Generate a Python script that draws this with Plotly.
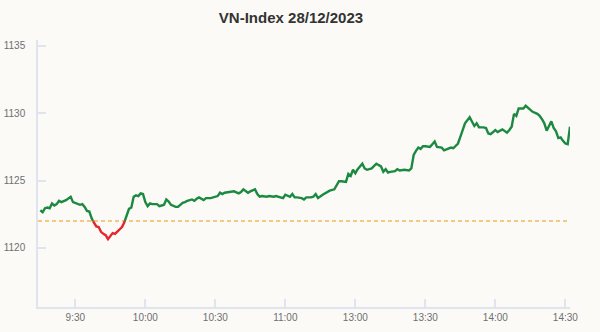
import plotly.graph_objects as go

# ---- data -------------------------------------------------------------
title_text = "VN-Index 28/12/2023"
ref_value = 1122.0  # previous close (reference)

times = [
    "09:15", "09:16", "09:17", "09:18", "09:19", "09:20", "09:21", "09:22", "09:23", "09:24",
    "09:26", "09:27", "09:28", "09:29", "09:31", "09:32", "09:33", "09:34", "09:35", "09:36",
    "09:37", "09:38", "09:39", "09:40", "09:41", "09:42", "09:43", "09:44", "09:45", "09:46",
    "09:47", "09:48", "09:50", "09:51", "09:52", "09:53", "09:54", "09:55", "09:56", "09:57",
    "09:58", "09:59", "10:00", "10:01", "10:02", "10:03", "10:05", "10:06", "10:07", "10:08",
    "10:09", "10:10", "10:11", "10:13", "10:14", "10:16", "10:17", "10:18", "10:20", "10:21",
    "10:22", "10:23", "10:25", "10:26", "10:28", "10:29", "10:31", "10:32", "10:33", "10:34",
    "10:36", "10:37", "10:38", "10:40", "10:41", "10:42", "10:43", "10:44", "10:45", "10:47",
    "10:48", "10:49", "10:50", "10:52", "10:53", "10:55", "10:56", "10:57", "10:59", "11:00",
    "11:02", "11:03", "11:04", "11:05", "11:07", "11:08", "11:09", "11:11", "11:12", "11:13",
    "11:14", "11:16", "11:17", "11:18", "11:19", "11:21", "11:22", "11:23", "11:24", "11:26",
    "11:27", "11:28", "11:29", "13:00", "13:01", "13:03", "13:04", "13:05", "13:07", "13:08",
    "13:09", "13:11", "13:12", "13:13", "13:14", "13:15", "13:17", "13:18", "13:19", "13:21",
    "13:23", "13:24", "13:25", "13:26", "13:27", "13:28", "13:29", "13:30", "13:32", "13:33",
    "13:34", "13:35", "13:37", "13:38", "13:40", "13:41", "13:42", "13:44", "13:45", "13:46",
    "13:47", "13:49", "13:50", "13:51", "13:52", "13:53", "13:55", "13:56", "13:57", "13:58",
    "14:00", "14:01", "14:03", "14:04", "14:05", "14:06", "14:07", "14:08", "14:09", "14:10",
    "14:11", "14:12", "14:13", "14:15", "14:16", "14:18", "14:19", "14:20", "14:21", "14:22",
    "14:23", "14:24", "14:25", "14:26", "14:27", "14:28", "14:29", "14:30", "14:31", "14:32",
]

index_values = [
    1122.80, 1122.65, 1122.95, 1123.00, 1122.95, 1123.30, 1123.15, 1123.25, 1123.50, 1123.40,
    1123.55, 1123.65, 1123.80, 1123.40, 1123.25, 1123.20, 1123.25, 1123.05, 1122.75, 1122.70,
    1122.20, 1121.85, 1121.60, 1121.55, 1121.20, 1121.05, 1120.95, 1120.65, 1120.85, 1121.10,
    1121.05, 1121.20, 1121.55, 1121.90, 1122.45, 1122.90, 1123.00, 1123.80, 1123.90, 1123.85,
    1124.05, 1124.00, 1123.40, 1123.10, 1123.30, 1123.25, 1123.25, 1123.10, 1123.15, 1123.20,
    1123.60, 1123.45, 1123.20, 1123.05, 1123.05, 1123.35, 1123.40, 1123.50, 1123.60, 1123.50,
    1123.65, 1123.75, 1123.55, 1123.70, 1123.70, 1123.75, 1123.85, 1124.10, 1124.00, 1124.10,
    1124.15, 1124.20, 1124.20, 1124.05, 1124.15, 1124.35, 1124.20, 1124.10, 1124.20, 1124.35,
    1124.00, 1123.80, 1123.85, 1123.80, 1123.85, 1123.80, 1123.85, 1123.80, 1123.70, 1123.95,
    1123.80, 1124.00, 1123.75, 1123.75, 1123.70, 1123.60, 1123.75, 1123.75, 1123.80, 1124.00,
    1123.70, 1123.95, 1124.05, 1124.10, 1124.25, 1124.35, 1124.70, 1124.95, 1124.95, 1124.90,
    1125.50, 1125.35, 1125.80, 1125.55, 1125.85, 1126.25, 1125.90, 1125.80, 1125.90, 1126.05,
    1126.25, 1126.05, 1125.65, 1125.85, 1125.60, 1125.65, 1125.70, 1125.85, 1125.75, 1125.80,
    1125.75, 1125.90, 1126.90, 1127.20, 1127.45, 1127.35, 1127.55, 1127.55, 1127.50, 1127.70,
    1127.90, 1127.50, 1127.45, 1127.25, 1127.35, 1127.45, 1127.40, 1127.75, 1128.25, 1128.80,
    1129.25, 1129.70, 1129.35, 1129.05, 1129.25, 1128.95, 1128.95, 1128.90, 1128.50, 1128.45,
    1128.75, 1128.60, 1128.80, 1128.70, 1128.55, 1128.75, 1129.00, 1129.95, 1129.80, 1130.35,
    1130.35, 1130.35, 1130.55, 1130.20, 1130.10, 1129.95, 1129.80, 1129.55, 1129.25, 1128.70,
    1129.10, 1129.40, 1128.90, 1128.65, 1128.15, 1128.20, 1127.95, 1127.75, 1127.70, 1129.00,
]

tick_labels = ["9:30", "10:00", "10:30", "11:00", "13:00", "13:30", "14:00", "14:30"]
y_ticks = [1120, 1125, 1130, 1135]


# ---- trading-time scale (lunch break collapsed) ------------------------
def trading_minute(t):
    h, m = map(int, t.split(":"))
    tot = h * 60 + m
    if tot <= 11 * 60 + 30:
        return tot - (9 * 60 + 15)
    return 135 + (tot - 13 * 60)


xs = [trading_minute(t) for t in times]
ys = index_values
tick_pos = [trading_minute(t) for t in tick_labels]

# split the line into above / below reference segments
pts = [(xs[0], ys[0])]
for i in range(1, len(xs)):
    x0, y0 = xs[i - 1], ys[i - 1]
    x1, y1 = xs[i], ys[i]
    if (y0 - ref_value) * (y1 - ref_value) < 0:
        xc = x0 + (ref_value - y0) * (x1 - x0) / (y1 - y0)
        pts.append((xc, ref_value))
    pts.append((x1, y1))

traces = {"up": ([], []), "down": ([], [])}
last_end = {"up": None, "down": None}
for (a, b) in zip(pts[:-1], pts[1:]):
    key = "up" if (a[1] + b[1]) / 2 >= ref_value else "down"
    tx, ty = traces[key]
    if last_end[key] != a:
        if tx:
            tx.append(None)
            ty.append(None)
        tx.append(a[0])
        ty.append(a[1])
    tx.append(b[0])
    ty.append(b[1])
    last_end[key] = b

GREEN = "#1b8a40"
RED = "#e5262d"
AXIS = "#dfe4ee"
FONT = "Liberation Sans, Arial, sans-serif"
X_MIN, X_MAX = -1, 227

fig = go.Figure()
fig.add_trace(go.Scatter(
    x=[X_MIN, X_MAX], y=[ref_value, ref_value], mode="lines",
    line=dict(color="#f5b65b", width=1.5, dash="4px,3px"), hoverinfo="skip",
    showlegend=False,
))
fig.add_trace(go.Scatter(
    x=traces["up"][0], y=traces["up"][1], mode="lines",
    line=dict(color=GREEN, width=2.4), showlegend=False, connectgaps=False,
))
fig.add_trace(go.Scatter(
    x=traces["down"][0], y=traces["down"][1], mode="lines",
    line=dict(color=RED, width=2.4), showlegend=False, connectgaps=False,
))

fig.update_layout(
    width=600, height=332,
    margin=dict(l=38, r=30, t=40, b=25, autoexpand=False),
    paper_bgcolor="#fbfaf7", plot_bgcolor="#fbfaf7",
    font=dict(family=FONT, size=10, color="#6f6f6f"),
    title=dict(
        text="<b>" + title_text + "</b>", x=291 / 600, xanchor="center",
        y=1 - 18 / 332, yanchor="middle", xref="container", yref="container",
        font=dict(family=FONT, size=15, color="#333333"),
    ),
    showlegend=False,
)
fig.update_xaxes(
    range=[X_MIN, X_MAX], tickvals=tick_pos, ticktext=tick_labels, automargin=False,
    showgrid=False, zeroline=False, showline=True, linecolor=AXIS, linewidth=1.5,
    ticks="inside", ticklen=8, tickcolor=AXIS, tickwidth=1.5,
    tickfont=dict(size=10, color="#6f6f6f"), fixedrange=True,
)
fig.update_yaxes(
    range=[1115.62, 1135.43], tickvals=y_ticks, automargin=False,
    showgrid=False, zeroline=False, showline=True, linecolor=AXIS, linewidth=1.5,
    ticks="inside", ticklen=8, tickcolor=AXIS, tickwidth=1.5,
    tickfont=dict(size=10, color="#6f6f6f"), ticklabelstandoff=9, fixedrange=True,
)

fig.write_html("out.html")
